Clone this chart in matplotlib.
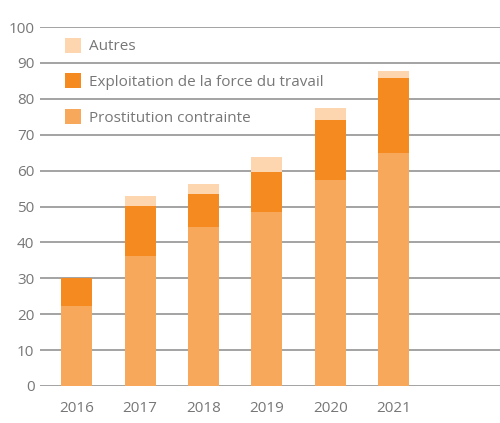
import matplotlib

matplotlib.use("Agg")

import matplotlib.pyplot as plt
import numpy as np

# ---------------------------------------------------------------------------
# Data
# ---------------------------------------------------------------------------
years = ["2016", "2017", "2018", "2019", "2020", "2021"]
prostitution = [22.3, 36.3, 44.4, 48.5, 57.5, 65.0]
exploitation = [7.8, 13.9, 9.2, 11.2, 16.6, 20.9]
autres = [0.0, 2.8, 2.8, 4.2, 3.3, 1.9]

labels = ["Prostitution contrainte", "Exploitation de la force du travail", "Autres"]
colors = ["#F8A85A", "#F58B20", "#FDD6B0"]

plt.rcParams["font.family"] = ["Open Sans", "DejaVu Sans"]

fig = plt.figure(figsize=(5.0, 4.23), dpi=100)
ax = fig.add_axes([0.08, 0.0875, 0.92, 0.8485])

x = np.arange(len(years))
bottom = np.zeros(len(years))
handles = []
for vals, lab, col in zip([prostitution, exploitation, autres], labels, colors):
    bars = ax.bar(x, vals, width=0.49, bottom=bottom, color=col, label=lab, zorder=3)
    handles.append(bars)
    bottom += np.asarray(vals)

ax.set_ylim(0, 100)
ax.set_xlim(-0.58, 6.68)
ax.set_yticks(np.arange(0, 101, 10))
ax.set_xticks(x)
ax.set_xticklabels(years)

ax.grid(axis="y", color="#949494", lw=1.2, zorder=0)
for s in ax.spines.values():
    s.set_visible(False)
ax.tick_params(axis="both", length=0, labelsize=11, colors="#777777")
ax.tick_params(axis="y", pad=4)
ax.tick_params(axis="x", pad=11)

leg = ax.legend(
    handles[::-1],
    labels[::-1],
    loc="upper left",
    bbox_to_anchor=(0.04, 0.987),
    frameon=False,
    fontsize=11,
    handlelength=1.1,
    handleheight=1.1,
    handletextpad=0.5,
    labelspacing=1.25,
    borderaxespad=0,
)
for t in leg.get_texts():
    t.set_color("#777777")

fig.savefig("out.png", dpi=100)
